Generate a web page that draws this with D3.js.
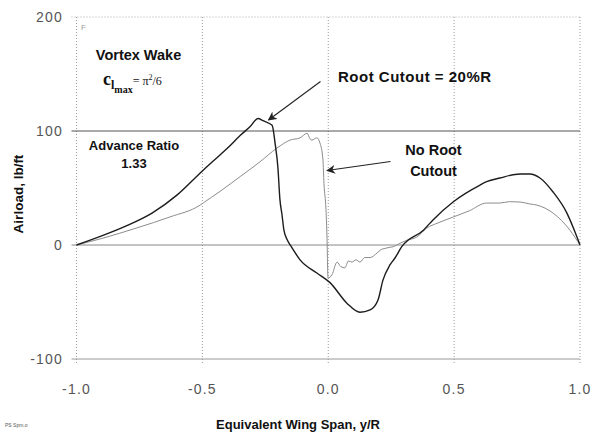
<!DOCTYPE html>
<html>
<head>
<meta charset="utf-8">
<script src="https://cdn.jsdelivr.net/npm/d3@7/dist/d3.min.js"></script>
<style>
  html, body { margin: 0; padding: 0; background: #fff; }
  svg { display: block; }
</style>
</head>
<body>
<svg id="chart" width="595" height="434"></svg>
<script>
// Span stations (y/R) and airload (lb/ft) for the 20%R root cutout case
const cutoutSpan = [-1.0, -0.9, -0.8, -0.7, -0.6, -0.5, -0.45, -0.4, -0.35, -0.31, -0.279, -0.259, -0.223,
  -0.211, -0.2, -0.192, -0.184, -0.176, -0.164, -0.148, -0.112, -0.045, 0.007, 0.074, 0.126, 0.166,
  0.198, 0.217, 0.245, 0.265, 0.292, 0.378, 0.416, 0.497, 0.603, 0.629, 0.682, 0.762, 0.801, 0.841,
  0.893, 0.948, 0.988, 1.0];
const cutoutLoad = [0, 8, 17, 28, 44, 65, 75, 85, 96, 104, 111, 109, 105,
  89, 68, 40, 27, 13, 5, -1, -13, -24.6, -33, -51, -59, -57,
  -48, -31, -17.5, -11.4, -1.5, 13, 22, 38, 52.6, 55.5, 58.8, 62.3, 62.3, 58.8,
  46.5, 28, 7, 0];

// Span stations (y/R) and airload (lb/ft) without root cutout
const fullSpan = [-1.0, -0.895, -0.76, -0.629, -0.509, -0.496, -0.43, -0.35, -0.271, -0.204, -0.152,
  -0.112, -0.084, -0.072, -0.065, -0.045, -0.033, -0.021, -0.017, -0.009, -0.005, -0.001, 0.015, 0.035,
  0.05, 0.066, 0.08, 0.094, 0.11, 0.126, 0.145, 0.166, 0.194, 0.21, 0.225, 0.245, 0.258, 0.285, 0.31,
  0.352, 0.392, 0.432, 0.497, 0.56, 0.629, 0.682, 0.72, 0.762, 0.8, 0.829, 0.893, 0.96, 1.0];
const fullLoad = [0, 6, 15, 24.6, 35, 37, 47, 60, 73, 85, 92,
  94, 98, 93, 92, 94, 89.5, 74.6, 54, 31, 7, -29, -26, -15,
  -19, -20, -14, -15, -13, -15, -11, -11, -7, -4, -3, -2, -1.5, 1.5, 4,
  7, 15, 19, 24.6, 30, 36.8, 36.8, 38, 37.7, 36, 35, 28, 13, 0];

const xTicks = [-1.0, -0.5, 0.0, 0.5, 1.0];
const yTicks = [-100, 0, 100, 200];

const svg = d3.select("#chart");
const x = d3.scaleLinear().domain([-1, 1]).range([76.5, 580]);
const y = d3.scaleLinear().domain([-100, 200]).range([359, 17]);

// Vertical grid (dotted)
svg.append("g").selectAll("line").data(xTicks).join("line")
  .attr("x1", d => x(d)).attr("x2", d => x(d))
  .attr("y1", y(200)).attr("y2", y(-100) + 6)
  .attr("stroke", "#9a9a9a").attr("stroke-width", 1)
  .attr("stroke-dasharray", "1,2");

// Horizontal grid
const hStyle = {
  "200": { c: "#aaa", w: 1, dash: "1,2" },
  "100": { c: "#555", w: 1.1, dash: null },
  "0": { c: "#888", w: 1, dash: null },
  "-100": { c: "#999", w: 1, dash: null }
};
svg.append("g").selectAll("line").data(yTicks).join("line")
  .attr("x1", x(-1) - 5).attr("x2", x(1))
  .attr("y1", d => y(d)).attr("y2", d => y(d))
  .attr("stroke", d => hStyle[d].c)
  .attr("stroke-width", d => hStyle[d].w)
  .attr("stroke-dasharray", d => hStyle[d].dash);

// Tick labels (plain hyphen for negatives)
const tickFont = "Liberation Sans, Arial, sans-serif";
svg.append("g").selectAll("text").data(yTicks).join("text")
  .attr("x", 63).attr("y", d => y(d) + 5)
  .attr("text-anchor", "end")
  .attr("font-family", tickFont).attr("font-size", 14)
  .attr("letter-spacing", 1.2)
  .attr("fill", "#555")
  .text(d => String(d));

svg.append("g").selectAll("text").data(xTicks).join("text")
  .attr("x", d => x(d)).attr("y", 394)
  .attr("text-anchor", "middle")
  .attr("font-family", tickFont).attr("font-size", 14)
  .attr("letter-spacing", 1.2)
  .attr("fill", "#555")
  .text(d => d.toFixed(1));

// Load curves
const line = d3.line().x(d => x(d[0])).y(d => y(d[1])).curve(d3.curveMonotoneX);
svg.append("path")
  .datum(d3.zip(fullSpan, fullLoad))
  .attr("d", line)
  .attr("fill", "none").attr("stroke", "#8c8c8c").attr("stroke-width", 1);
svg.append("path")
  .datum(d3.zip(cutoutSpan, cutoutLoad))
  .attr("d", line)
  .attr("fill", "none").attr("stroke", "#1c1c1c").attr("stroke-width", 1.4)
  .attr("stroke-linejoin", "round");

// Arrows
const defs = svg.append("defs");
defs.append("marker").attr("id", "arrow")
  .attr("viewBox", "0 0 10 10").attr("refX", 9).attr("refY", 5)
  .attr("markerWidth", 9).attr("markerHeight", 9)
  .attr("markerUnits", "userSpaceOnUse")
  .attr("orient", "auto")
  .append("path").attr("d", "M0,0 L10,5 L0,10 L3,5 Z").attr("fill", "#222");

svg.append("line")
  .attr("x1", 320.5).attr("y1", 81.5).attr("x2", 268.5).attr("y2", 120)
  .attr("stroke", "#222").attr("stroke-width", 1.1).attr("marker-end", "url(#arrow)");
svg.append("line")
  .attr("x1", 390.5).attr("y1", 161.5).attr("x2", 327).attr("y2", 170.5)
  .attr("stroke", "#222").attr("stroke-width", 1.1).attr("marker-end", "url(#arrow)");

// Annotations
const bold = "Liberation Sans, Arial, sans-serif";
function label(t, px, py, anchor, size, spacing) {
  svg.append("text").attr("x", px).attr("y", py)
    .attr("text-anchor", anchor || "start")
    .attr("font-family", bold).attr("font-weight", "bold")
    .attr("font-size", size || 14.5).attr("fill", "#111")
    .attr("letter-spacing", spacing || 0)
    .text(t);
}
label("Vortex Wake", 138.5, 60, "middle");
label("Advance Ratio", 134, 150, "middle", 13);
label("1.33", 134, 168, "middle", 13);
label("Root Cutout = 20%R", 338, 82, "start", 15, 0.5);
label("No Root", 433.5, 155, "middle");
label("Cutout", 433.5, 176, "middle");

// Lift coefficient limit: c_l_max = pi^2/6
const ce = svg.append("text").attr("x", 103).attr("y", 85)
  .attr("font-family", "Liberation Serif, Times New Roman, serif").attr("fill", "#111");
ce.append("tspan").attr("font-size", 18).attr("font-weight", "bold").text("c");
ce.append("tspan").attr("font-size", 12).attr("font-weight", "bold").attr("dy", 4).text("l");
ce.append("tspan").attr("font-size", 10).attr("font-weight", "bold").attr("dy", 4).text("max");
ce.append("tspan").attr("font-size", 12).attr("dy", -8).text("= π");
ce.append("tspan").attr("font-size", 8).attr("dy", -5).text("2");
ce.append("tspan").attr("font-size", 12).attr("dy", 5).text("/6");

// Axis titles
svg.append("text")
  .attr("transform", "translate(23,194) rotate(-90)")
  .attr("text-anchor", "middle")
  .attr("font-family", bold).attr("font-weight", "bold").attr("font-size", 13.5)
  .attr("fill", "#111").text("Airload, lb/ft");
svg.append("text")
  .attr("x", 298).attr("y", 429).attr("text-anchor", "middle")
  .attr("font-family", bold).attr("font-weight", "bold").attr("font-size", 13)
  .attr("fill", "#111").text("Equivalent Wing Span, y/R");

// Small figure tag and corner mark
svg.append("text").attr("x", 5).attr("y", 427)
  .attr("font-family", tickFont).attr("font-size", 5).attr("fill", "#555")
  .text("PS Spm.o");
svg.append("text").attr("x", 81).attr("y", 30)
  .attr("font-family", tickFont).attr("font-size", 8).attr("fill", "#999")
  .text("F");
</script>
</body>
</html>
